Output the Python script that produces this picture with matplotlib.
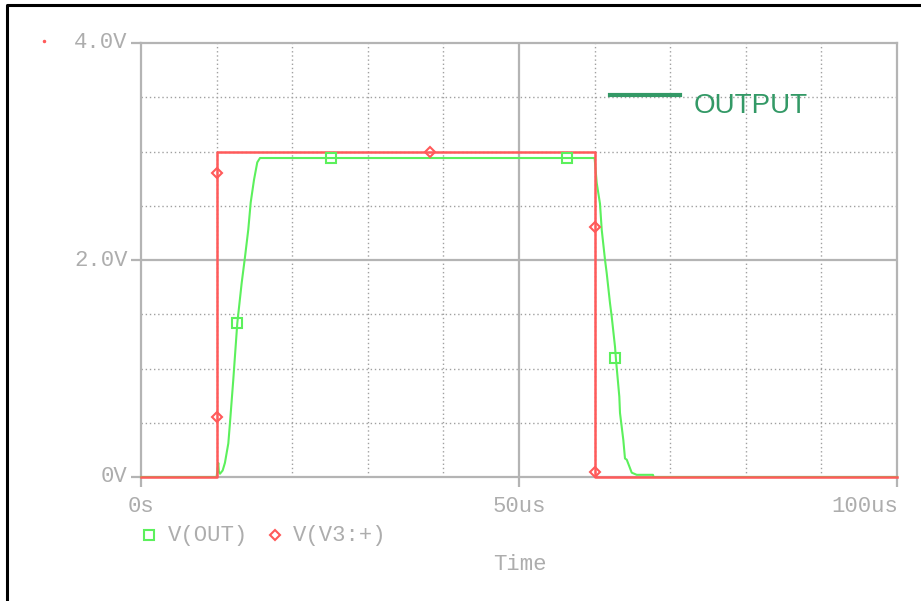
import matplotlib.pyplot as plt
from matplotlib.lines import Line2D

# ---------------------------------------------------------------
# data (time in us, voltage in V)
# ---------------------------------------------------------------
t_in = [0, 10, 10, 60, 60, 100]
v_in = [0, 0, 3.0, 3.0, 0, 0]
t_in_mk = [10, 10, 38.2, 60, 60.05]
v_in_mk = [2.8, 0.55, 3.0, 2.3, 0.05]

t_out = [0, 10, 10.22, 10.3, 10.45, 10.8, 11.1, 11.55, 11.77, 12.2, 12.74,
         13.32, 13.76, 14.19, 14.51, 14.95, 15.38, 15.74,
         60.0, 60.28, 60.71, 60.94, 61.38, 61.6, 62.04, 62.26, 62.7, 62.83,
         63.27, 63.36, 63.8, 64.02, 64.25, 64.91, 65.57, 67.72, 67.8, 100]
v_out = [0, 0, 0.13, 0.05, 0.03, 0.06, 0.13, 0.31, 0.50, 0.89, 1.42,
         1.79, 2.03, 2.28, 2.53, 2.74, 2.90, 2.94,
         2.94, 2.71, 2.52, 2.28, 2.00, 1.88, 1.60, 1.48, 1.20, 1.08,
         0.74, 0.59, 0.34, 0.17, 0.16, 0.04, 0.02, 0.02, 0, 0]
t_out_mk = [12.7, 25.1, 56.3, 62.7]
v_out_mk = [1.42, 2.94, 2.94, 1.10]

x_ticks = [0, 50, 100]
x_labels = ['0s', '50us', '100us']
y_ticks = [0, 2, 4]
y_labels = ['0V', '2.0V', '4.0V']
x_grid = [10, 20, 30, 40, 60, 70, 80, 90]
y_grid = [0.5, 1.0, 1.5, 2.5, 3.0, 3.5]

# ---------------------------------------------------------------
W, H = 921, 601
fig = plt.figure(figsize=(W / 100, H / 100), dpi=100)
ax = fig.add_axes([141 / W, 1 - 477 / H, (897 - 141) / W, (477 - 43) / H])

GRAY = '#b4b4b4'
TXT = '#adadad'
RED = '#ff5a5a'
GREEN = '#5cf05c'
MONO = 'Liberation Mono'

ax.set_xlim(0, 100)
ax.set_ylim(0, 4)
for s in ax.spines.values():
    s.set_color(GRAY)
    s.set_linewidth(1.6)

# grid
for x in x_grid:
    ax.axvline(x, color='#a0a0a0', lw=1.0, ls=(0, (1, 2)), zorder=1)
for y in y_grid:
    ax.axhline(y, color='#a0a0a0', lw=1.0, ls=(0, (1, 2)), zorder=1)
ax.axvline(50, color=GRAY, lw=1.6, zorder=1)
ax.axhline(2, color=GRAY, lw=1.6, zorder=1)

ax.set_xticks(x_ticks)
ax.set_yticks(y_ticks)
ax.set_xticklabels([])
ax.set_yticklabels([])
ax.tick_params(axis='both', direction='out', length=7, width=1.6, color=GRAY)

# traces
ax.plot(t_out, v_out, color=GREEN, lw=1.5, zorder=3, clip_on=False)
ax.plot(t_in, v_in, color=RED, lw=1.8, zorder=4, clip_on=False)
ax.plot(t_out_mk, v_out_mk, ls='none', marker='s', ms=7, mfc='none',
        mec=GREEN, mew=1.5, zorder=5)
ax.plot(t_in_mk, v_in_mk, ls='none', marker='D', ms=5.5, mfc='none',
        mec=RED, mew=1.5, zorder=5)

# tick labels
for x, lab in zip(x_ticks, x_labels):
    ha = 'right' if x == 100 else 'center'
    xx = 100.2 if x == 100 else x
    ax.text(xx, -0.27, lab, ha=ha, va='center', family=MONO, fontsize=16,
            color=TXT)
for y, lab in zip(y_ticks, y_labels):
    ax.text(-1.75, y, lab, ha='right', va='center', family=MONO, fontsize=16,
            color=TXT)

# legend row and axis title
fig.add_artist(Line2D([149 / W], [1 - 535 / H], ls='none', marker='s', ms=7,
                      mfc='none', mec=GREEN, mew=1.5))
fig.text(168 / W, 1 - 535 / H, 'V(OUT)', ha='left', va='center', family=MONO,
         fontsize=16, color=TXT)
fig.add_artist(Line2D([275 / W], [1 - 535 / H], ls='none', marker='D', ms=5.5,
                      mfc='none', mec=RED, mew=1.5))
fig.text(293 / W, 1 - 535 / H, 'V(V3:+)', ha='left', va='center', family=MONO,
         fontsize=16, color=TXT)
fig.text(520 / W, 1 - 565 / H, 'Time', ha='center', va='center', family=MONO,
         fontsize=16, color=TXT)

# OUTPUT annotation
fig.add_artist(Line2D([610 / W, 680 / W], [1 - 95 / H, 1 - 95 / H],
                      color='#339966', lw=3))
fig.text(694 / W, 1 - 106 / H, 'OUTPUT', ha='left', va='center',
         family='Liberation Sans', fontsize=20, color='#339966')

# stray red dot and outer frame
fig.add_artist(Line2D([44 / W], [1 - 41 / H], ls='none', marker='o', ms=1.5,
                      color=RED))
fig.add_artist(Line2D([7 / W, 7 / W, 1.0], [0, 1 - 5 / H, 1 - 5 / H],
                      color='black', lw=2.2))

fig.savefig('out.png', dpi=100)
